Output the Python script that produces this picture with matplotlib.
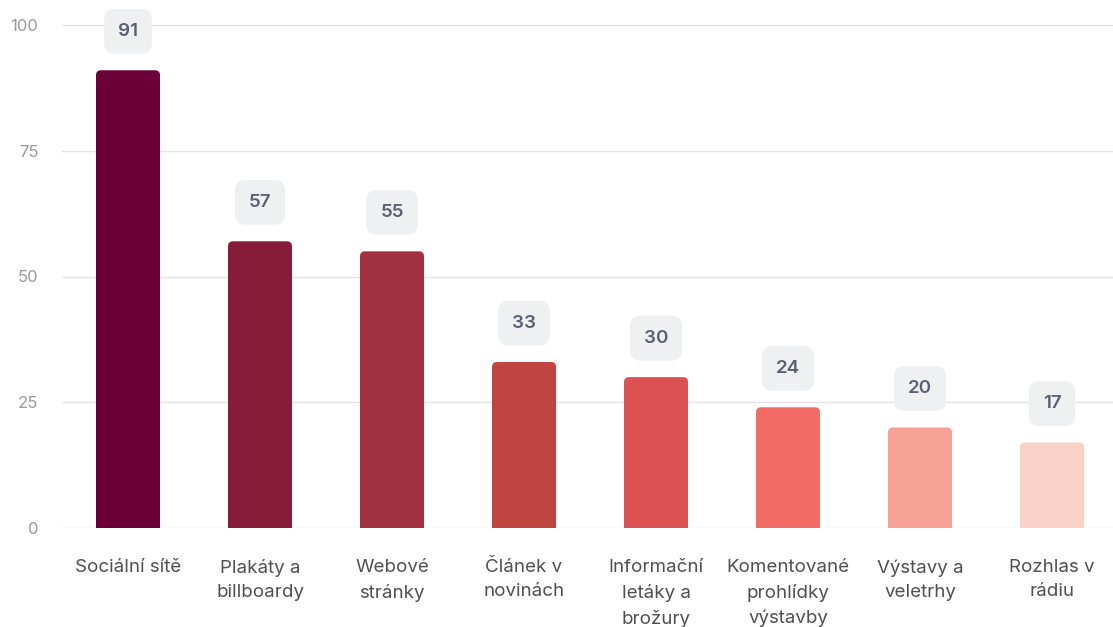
import matplotlib
matplotlib.use("Agg")
import matplotlib.pyplot as plt
from matplotlib.patches import FancyBboxPatch

categories = [
    "Sociální sítě",
    "Plakáty a\nbillboardy",
    "Webové\nstránky",
    "Článek v\nnovinách",
    "Informační\nletáky a\nbrožury",
    "Komentované\nprohlídky\nvýstavby",
    "Výstavy a\nveletrhy",
    "Rozhlas v\nrádiu",
]
values = [91, 57, 55, 33, 30, 24, 20, 17]
colors = ["#6a0037", "#861b3a", "#a2313f", "#c0443f", "#dc5253",
          "#f26c66", "#f8a197", "#fbd2c7"]
yticks = [0, 25, 50, 75, 100]

plt.rcParams["font.family"] = ["Inter", "DejaVu Sans"]

W, H = 1113, 627
fig = plt.figure(figsize=(W / 100, H / 100), dpi=100)
left_px, right_px, bottom_px, top_px = 62, 1113, 528, 5
ax = fig.add_axes([left_px / W, (H - bottom_px) / H,
                   (right_px - left_px) / W, (bottom_px - top_px) / H])

x = list(range(len(values)))
bars = ax.bar(x, values, width=0.485, color=colors, zorder=3)

# Replace each bar with a slightly rounded-top version of itself
x_px_per_unit = 132.0
y_px_per_unit = 5.03
for b in bars:
    bx, bw, bh = b.get_x(), b.get_width(), b.get_height()
    c = b.get_facecolor()
    b.set_visible(False)
    r = 5 / x_px_per_unit
    patch = FancyBboxPatch((bx, -3), bw, bh + 3,
                           boxstyle=f"round,pad=0,rounding_size={r}",
                           mutation_aspect=x_px_per_unit / y_px_per_unit,
                           facecolor=c, edgecolor="none", zorder=3)
    ax.add_patch(patch)

for xi, v in zip(x, values):
    ax.annotate(f"{v}", xy=(xi, v), xytext=(0, 28), textcoords="offset points",
                ha="center", va="center", fontsize=13.5, fontweight="semibold",
                color="#5b6172", annotation_clip=False, zorder=4,
                bbox=dict(boxstyle="round,pad=0.74,rounding_size=0.55",
                          facecolor="#eef0f2", edgecolor="none"))

ax.set_xlim(-0.5, (right_px - left_px) / x_px_per_unit - 0.5)
ax.set_ylim(0, (bottom_px - top_px) / y_px_per_unit)
ax.set_yticks(yticks)
ax.set_xticks(x)
ax.set_xticklabels(categories, fontsize=13.5, color="#505050", linespacing=1.55)
ax.tick_params(axis="x", length=0, pad=22.5)
ax.tick_params(axis="y", length=0, pad=17, labelsize=12, labelcolor="#9a9a9a")
ax.grid(axis="y", color="#e4e4e4", linewidth=1, zorder=0)
ax.set_axisbelow(True)
for s in ax.spines.values():
    s.set_visible(False)

fig.savefig("out.png", dpi=100)
